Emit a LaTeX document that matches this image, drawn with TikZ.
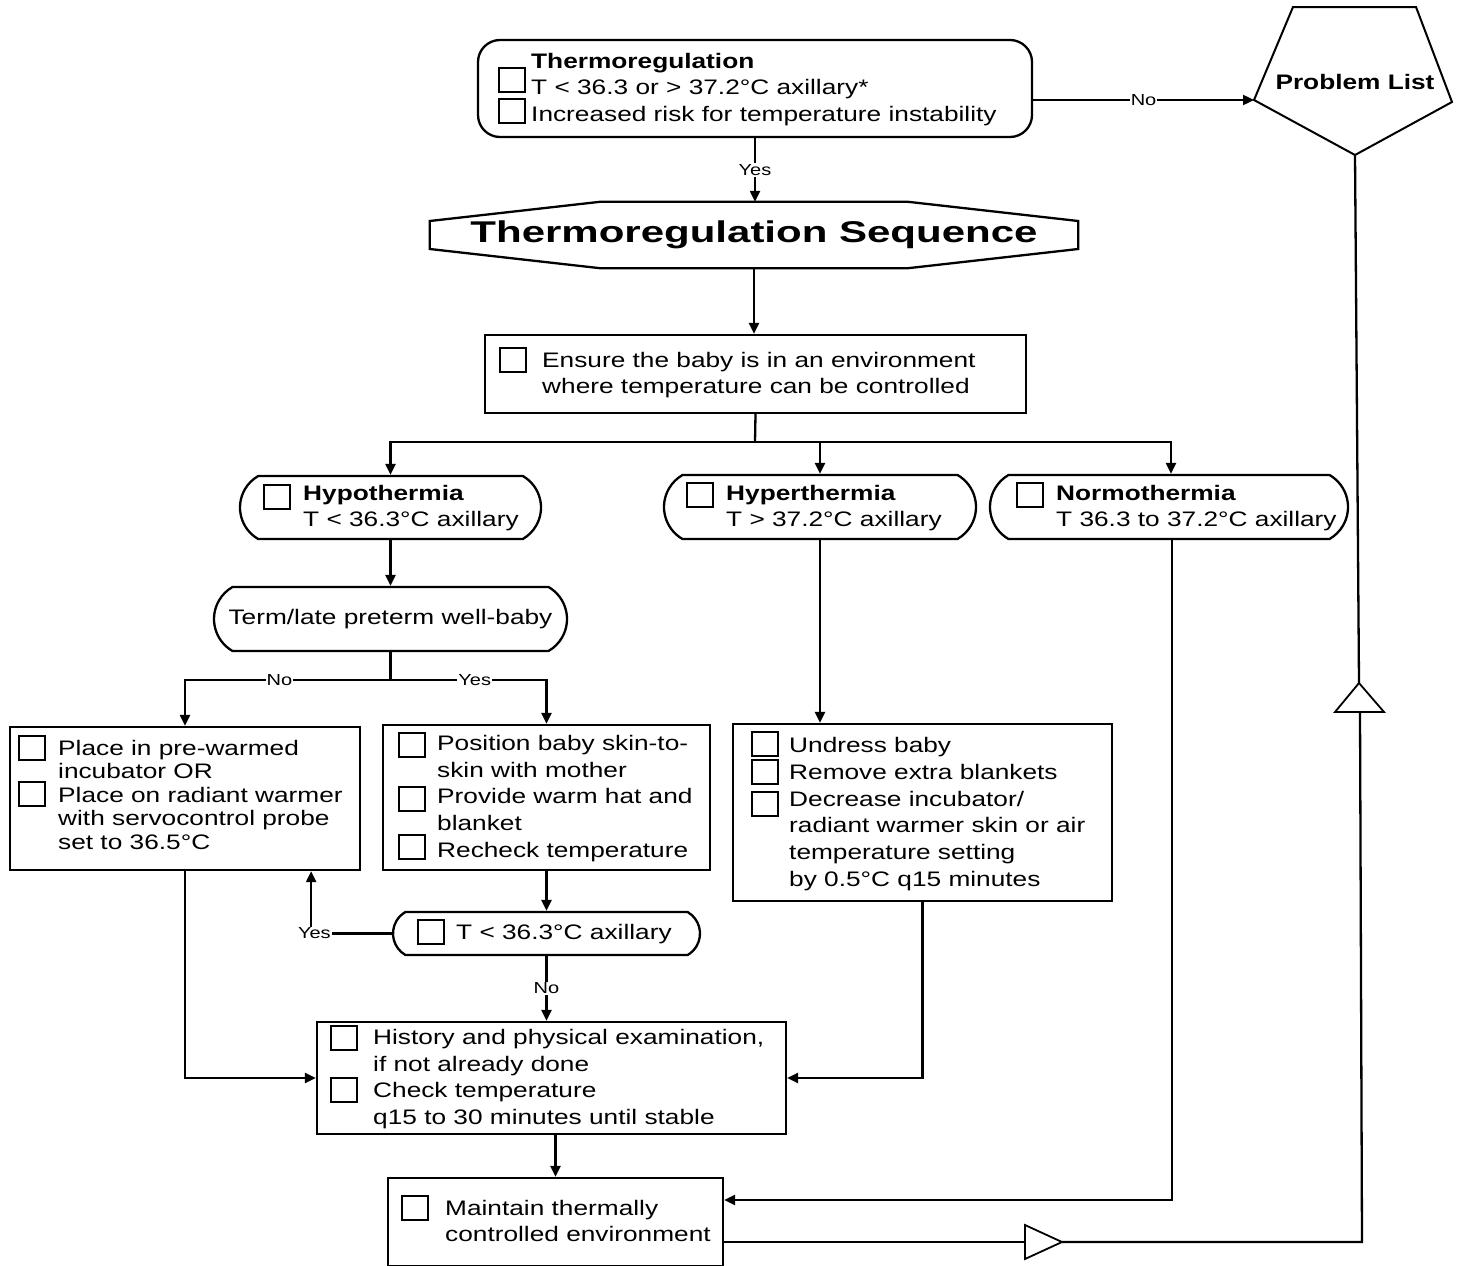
\documentclass[tikz,border=0pt]{standalone}
\usepackage{fontspec}
\setmainfont{Liberation Sans}[FakeStretch=1.25]
\newfontfamily\titlefont{Liberation Sans}[FakeStretch=1.4]
\usetikzlibrary{arrows.meta,calc,shapes.misc}
\begin{document}
\begin{tikzpicture}[x=1pt,y=-1pt,
 line/.style={line width=2.3pt},
 arr/.style={line width=2.3pt,-{Triangle[length=11pt,width=10pt]}},
 box/.style={draw,line width=2.3pt,rectangle,inner sep=0pt},
 stad/.style={draw,line width=2.3pt,rounded rectangle,rounded rectangle arc length=120,inner sep=0pt,font=\fontsize{21}{26.5}\selectfont},
 cb/.style={draw,line width=1.8pt,minimum width=26pt,minimum height=24pt,inner sep=0pt},
 txt/.style={anchor=north west,align=left,inner sep=0pt,font=\fontsize{21}{26.5}\selectfont},
 lbl/.style={fill=white,inner sep=1pt,font=\fontsize{16}{18}\selectfont},
 tri/.style={draw,line width=1.8pt,fill=white}
]
\fill[white] (0,0) rectangle (1462,1266);
\useasboundingbox (0,0) rectangle (1462,1266);

% ---- top decision
\node[draw,line width=2.3pt,rounded corners=22pt,minimum width=554pt,minimum height=97pt,inner sep=0pt] (top) at (755,88.5) {};
\node[cb] (c1) at (512,80) {};
\node[cb] (c2) at (512,111) {};
\node[txt] (ttop) at (531,53) {\textbf{Thermoregulation}\\T < 36.3 or > 37.2°C axillary*\\Increased risk for temperature instability};

% ---- problem list pentagon
\coordinate (p1) at (1293,7);
\coordinate (p2) at (1416,7);
\coordinate (p3) at (1452,102);
\coordinate (p4) at (1355,155);
\coordinate (p5) at (1254,100);
\draw[line width=2pt] (p1) -- (p2) -- (p3) -- (p4) -- (p5) -- cycle;
\node[font=\fontsize{21}{26}\selectfont\bfseries] (pl) at (1355,82) {Problem List};

\draw[arr] (top.east |- p5) -- node[lbl]{No} (p5);

% ---- sequence title
\node[minimum width=648pt,minimum height=66pt,inner sep=0pt,font=\titlefont\bfseries\fontsize{30}{36}\selectfont] (seq) at (754,235) {Thermoregulation Sequence};
\draw[line] ($(seq.west)+(0,-14)$) -- ($(seq.north)+(-154,0)$) -- ($(seq.north)+(154,0)$) -- ($(seq.east)+(0,-14)$) -- ($(seq.east)+(0,14)$) -- ($(seq.south)+(154,0)$) -- ($(seq.south)+(-154,0)$) -- ($(seq.west)+(0,14)$) -- cycle;

\draw[arr] (top.south) -- node[lbl]{Yes} (top.south |- seq.north);

% ---- ensure box
\node[box,minimum width=541pt,minimum height=78pt] (ens) at (755.5,374) {};
\node[cb] (c3) at (513,360) {};
\node[txt] (tens) at (542,352) {Ensure the baby is in an environment\\where temperature can be controlled};
\draw[arr] (seq.south) -- (seq.south |- ens.north);

% ---- three states
\node[stad,minimum width=301pt,minimum height=63pt] (hypo) at (390.5,507.5) {};
\node[cb] (c4) at (277,497) {};
\node[txt] (thypo) at (303,485) {\textbf{Hypothermia}\\T < 36.3°C axillary};

\node[stad,minimum width=312pt,minimum height=64pt] (hyper) at (820,507) {};
\node[cb] (c5) at (700,495) {};
\node[txt] (thyper) at (726,485) {\textbf{Hyperthermia}\\T > 37.2°C axillary};

\node[stad,minimum width=358pt,minimum height=64pt] (normo) at (1169,507) {};
\node[cb] (c6) at (1030,495) {};
\node[txt] (tnormo) at (1056,485) {\textbf{Normothermia}\\T 36.3 to 37.2°C axillary};

\coordinate (sp1) at (755,442);
\draw[line] (ens.south) -- (sp1);
\draw[arr] (sp1) -| (hypo.north);
\draw[arr] (sp1) -| ([xshift=2pt]normo.north);
\draw[arr] (hyper.north |- sp1) -- (hyper.north);

% ---- term / late preterm
\node[stad,minimum width=353pt,minimum height=64pt] (term) at (390.5,619) {Term/late preterm well-baby};
\draw[arr] (hypo.south) -- (term.north);

% ---- left box
\node[box,minimum width=350pt,minimum height=143pt] (inc) at (185,798.5) {};
\node[cb] (c7) at (32,748) {};
\node[cb] (c8) at (32,794) {};
\node[txt,font=\fontsize{21}{23.5}\selectfont] (tinc) at (58,740) {Place in pre-warmed\\incubator OR\\Place on radiant warmer\\with servocontrol probe\\set to 36.5°C};

% ---- middle box
\node[box,minimum width=327pt,minimum height=145pt] (skin) at (546.5,797.5) {};
\node[cb] (c9) at (412,745) {};
\node[cb] (c10) at (412,799) {};
\node[cb] (c11) at (412,847) {};
\node[txt,font=\fontsize{21}{26.7}\selectfont] (tskin) at (437,735) {Position baby skin-to-\\skin with mother\\Provide warm hat and\\blanket\\Recheck temperature};

\coordinate (sp2) at (390.5,680);
\draw[line] (term.south) -- (sp2);
\draw[arr] (sp2) -| node[lbl,pos=0.27]{No} (inc.north);
\draw[arr] (sp2) -| node[lbl,pos=0.27]{Yes} (skin.north);

% ---- hyperthermia box
\node[box,minimum width=379pt,minimum height=177pt] (und) at (922.5,812.5) {};
\node[cb] (c12) at (765,744) {};
\node[cb] (c13) at (765,772) {};
\node[cb] (c14) at (765,804) {};
\node[txt,font=\fontsize{21}{26.8}\selectfont] (tund) at (789,737) {Undress baby\\Remove extra blankets\\Decrease incubator/\\radiant warmer skin or air\\temperature setting\\by 0.5°C q15 minutes};
\draw[arr] (hyper.south) -- (hyper.south |- und.north);

% ---- recheck decision
\node[stad,minimum width=307pt,minimum height=43pt] (tchk) at (546.5,933.5) {};
\node[cb] (c15) at (431,932) {};
\node[txt] (ttchk) at (456,924) {T < 36.3°C axillary};
\draw[arr] (skin.south) -- (tchk.north);
\draw[arr] (tchk.west) -| node[lbl,pos=0.48]{Yes} ([xshift=-50pt]inc.south east);

% ---- history box
\node[box,minimum width=469pt,minimum height=112pt] (hist) at (551.5,1078) {};
\node[cb] (c16) at (344,1038) {};
\node[cb] (c17) at (344,1090) {};
\node[txt,font=\fontsize{21}{26.7}\selectfont] (thist) at (373,1029) {History and physical examination,\\if not already done\\Check temperature\\q15 to 30 minutes until stable};
\draw[arr] (tchk.south) -- node[lbl]{No} (tchk.south |- hist.north);
\draw[arr] (inc.south) |- (hist.west);
\draw[arr] (und.south) |- (hist.east);

% ---- maintain box
\node[box,minimum width=335pt,minimum height=88pt] (maint) at (555.5,1222) {};
\node[cb] (c18) at (415,1208) {};
\node[txt,font=\fontsize{21}{26}\selectfont] (tmaint) at (445,1200) {Maintain thermally\\controlled environment};
\draw[arr] (hist.south -| maint.north) -- (maint.north);
\draw[arr] ([xshift=3pt]normo.south) |- ([yshift=22pt]maint.east);

% ---- feedback path with triangles
\coordinate (t1w) at (1025,1242);
\coordinate (t1a) at (1062,1242);
\coordinate (crn) at (1362,1242);
\coordinate (t2b) at (1360,712);
\coordinate (t2a) at (1359,683);
\draw[line] ([yshift=-20pt]maint.east) -- (t1w);
\draw[tri] (1025,1225) -- (t1a) -- (1025,1259) -- cycle;
\draw[line] (t1a) -- (crn) -- (t2b);
\draw[tri] (1335,712) -- (t2a) -- (1384,712) -- cycle;
\draw[line] (t2a) -- (p4);
\end{tikzpicture}
\end{document}
